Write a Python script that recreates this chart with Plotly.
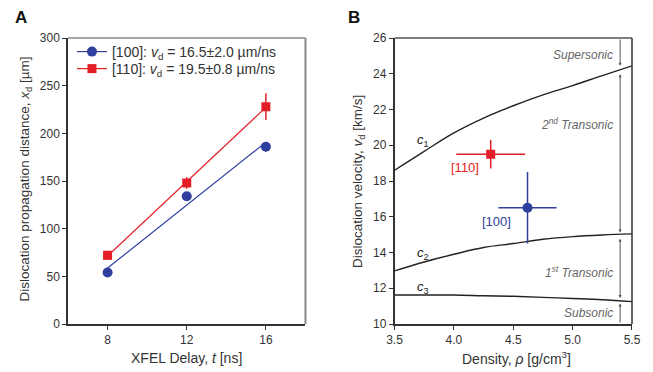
import numpy as np
import plotly.graph_objects as go

# ---------------- data ----------------
delay = [8, 12, 16]
dist_100 = [54, 134, 186]
err_100 = [3, 3, 5]
dist_110 = [72, 148, 228]
err_110 = [4, 6, 14]
legend_100 = "[100]: <i>v</i><sub>d</sub> = 16.5±2.0 µm/ns"
legend_110 = "[110]: <i>v</i><sub>d</sub> = 19.5±0.8 µm/ns"

density = [3.5, 3.75, 4.0, 4.25, 4.5, 4.75, 5.0, 5.25, 5.5]
c1 = [18.6, 19.66, 20.69, 21.52, 22.21, 22.82, 23.34, 23.9, 24.44]
c2 = [12.97, 13.47, 13.9, 14.28, 14.5, 14.74, 14.89, 14.98, 15.04]
c3 = [11.62, 11.62, 11.62, 11.58, 11.55, 11.49, 11.43, 11.36, 11.25]

rho_110 = [4.31]; rho_err_110 = [0.29]; v_110 = [19.5]; v_err_110 = [0.8]
rho_100 = [4.62]; rho_err_100 = [0.245]; v_100 = [16.5]; v_err_100 = [2.0]

region_x = 5.4
region_bounds = [(26, 24.45), (24.05, 15.12), (14.85, 11.45), (10, 11.15)]
region_labels = ["Supersonic", "2<sup>nd</sup> Transonic", "1<sup>st</sup> Transonic", "Subsonic"]
region_label_y = [25.05, 21.19, 12.92, 10.6]

BLUE = "#2f3f9d"
RED = "#e31e27"
FONT = "Liberation Sans, Arial, sans-serif"
AX = "#333333"

fig = go.Figure()

# ---- Panel A ----
xfit = np.array([min(delay), max(delay)], dtype=float)
for d, e, col, sym, name, lg in [(dist_100, err_100, BLUE, "circle", legend_100, "legend"),
                                 (dist_110, err_110, RED, "square", legend_110, "legend2")]:
    k, b = np.polyfit(delay, d, 1)
    msize = 10 if sym == "circle" else 9
    fig.add_trace(go.Scatter(x=xfit, y=k * xfit + b, mode="lines",
                             line=dict(color=col, width=1.2), showlegend=False,
                             xaxis="x", yaxis="y"))
    fig.add_trace(go.Scatter(x=delay, y=d, mode="markers",
                             marker=dict(color=col, symbol=sym, size=msize),
                             error_y=dict(type="data", array=e, color=col, thickness=1.5, width=0),
                             showlegend=False, xaxis="x", yaxis="y"))
    fig.add_trace(go.Scatter(x=[None], y=[None], mode="lines+markers", name=name, legend=lg,
                             line=dict(color=col, width=1.2),
                             marker=dict(color=col, symbol=sym, size=msize),
                             xaxis="x", yaxis="y"))

# ---- Panel B ----
for c in [c1, c2, c3]:
    fig.add_trace(go.Scatter(x=density, y=c, mode="lines", line=dict(color="#222", width=1.4, shape="spline"),
                             showlegend=False, xaxis="x2", yaxis="y2"))

fig.add_trace(go.Scatter(x=rho_110, y=v_110, mode="markers",
                         marker=dict(color=RED, symbol="square", size=9),
                         error_x=dict(type="data", array=rho_err_110, color=RED, thickness=1.5, width=0),
                         error_y=dict(type="data", array=v_err_110, color=RED, thickness=1.5, width=0),
                         showlegend=False, xaxis="x2", yaxis="y2"))
fig.add_trace(go.Scatter(x=rho_100, y=v_100, mode="markers",
                         marker=dict(color=BLUE, symbol="circle", size=10),
                         error_x=dict(type="data", array=rho_err_100, color=BLUE, thickness=1.5, width=0),
                         error_y=dict(type="data", array=v_err_100, color=BLUE, thickness=1.5, width=0),
                         showlegend=False, xaxis="x2", yaxis="y2"))

ann = []
# region arrows
for i, (y0, y1) in enumerate(region_bounds):
    side = "end+start" if i in (1, 2) else "end"
    ann.append(dict(x=region_x, y=y1, ax=region_x, ay=y0, xref="x2", yref="y2", axref="x2", ayref="y2",
                    showarrow=True, arrowhead=2, arrowsize=0.6, arrowwidth=1, arrowcolor="#555",
                    arrowside=side, standoff=0, startstandoff=0, text=""))
for t, yy in zip(region_labels, region_label_y):
    ann.append(dict(x=5.36, y=yy, xref="x2", yref="y2", text="<i>" + t + "</i>", showarrow=False,
                    xanchor="right", yanchor="middle", font=dict(size=12, color="#666", family=FONT)))
for t, xx, yy in [("<i>c</i><sub>1</sub>", 3.74, 20.25), ("<i>c</i><sub>2</sub>", 3.74, 13.96),
                  ("<i>c</i><sub>3</sub>", 3.74, 12.02)]:
    ann.append(dict(x=xx, y=yy, xref="x2", yref="y2", text=t, showarrow=False,
                    xanchor="center", yanchor="middle", font=dict(size=13, color="#222", family=FONT)))
ann.append(dict(x=4.09, y=18.74, xref="x2", yref="y2", text="[110]", showarrow=False,
                xanchor="center", yanchor="middle", font=dict(size=13, color=RED, family=FONT)))
ann.append(dict(x=4.36, y=15.76, xref="x2", yref="y2", text="[100]", showarrow=False,
                xanchor="center", yanchor="middle", font=dict(size=13, color=BLUE, family=FONT)))

# axis titles & panel letters (paper coords; plot area px 68..638 x 38..324)
W0, W = 68, 570
H0, H = 38, 286
px = lambda p: (p - W0) / W
py = lambda p: 1 - (p - H0) / H
for t, x, y, ang, size in [
    ("Dislocation propagation distance, <i>x</i><sub>d</sub> [µm]", 25, 179, -90, 13.5),
    ("Dislocation velocity, <i>v</i><sub>d</sub> [km/s]", 361, 181, -90, 13.5),
    ("XFEL Delay, <i>t</i> [ns]", 188, 358, 0, 14),
    ("Density, <i>ρ</i> [g/cm<sup>3</sup>]", 521, 358, 0, 14),
]:
    ann.append(dict(x=px(x), y=py(y), xref="paper", yref="paper", textangle=ang, showarrow=False,
                    xanchor="center", yanchor="middle", text=t, font=dict(size=size, color=AX, family=FONT)))
for t, x, y in [("<b>A</b>", 20, 17), ("<b>B</b>", 357, 17)]:
    ann.append(dict(x=px(x), y=py(y), xref="paper", yref="paper", showarrow=False,
                    xanchor="center", yanchor="middle", text=t, font=dict(size=17, color="#111", family=FONT)))

shapes = [
    dict(type="line", xref="x domain", yref="y domain", x0=0, x1=1, y0=1, y1=1, line=dict(color="#888", width=1.5)),
    dict(type="line", xref="x domain", yref="y domain", x0=1, x1=1, y0=0, y1=1, line=dict(color="#888", width=2)),
    dict(type="line", xref="x2 domain", yref="y2 domain", x0=0, x1=1, y0=1, y1=1, line=dict(color="#555", width=1.5)),
    dict(type="line", xref="x2 domain", yref="y2 domain", x0=1, x1=1, y0=0, y1=1, line=dict(color="#333", width=1.5)),
]

axis_common = dict(showgrid=False, zeroline=False, showline=True, linecolor=AX, linewidth=1.5,
                   ticks="outside", ticklen=4, tickwidth=1, tickcolor=AX,
                   tickfont=dict(size=12, color=AX, family=FONT))

legend_common = dict(xanchor="left", yanchor="middle", bgcolor="rgba(0,0,0,0)",
                     font=dict(size=14, color=AX, family=FONT), itemwidth=30)

fig.update_layout(
    width=653, height=372,
    margin=dict(l=W0, r=653 - W0 - W, t=H0, b=372 - H0 - H),
    paper_bgcolor="white", plot_bgcolor="white",
    font=dict(family=FONT, color=AX),
    xaxis=dict(domain=[0, (308 - W0) / W], range=[6, 18], tickvals=delay, anchor="y", **axis_common),
    yaxis=dict(domain=[0, 1], range=[0, 300], dtick=50, anchor="x", **axis_common),
    xaxis2=dict(domain=[(398 - W0) / W, 1], range=[3.5, 5.5], dtick=0.5, tickformat=".1f", anchor="y2", **axis_common),
    yaxis2=dict(domain=[0, 1], range=[10, 26], dtick=2, anchor="x2", **axis_common),
    legend=dict(x=px(72), y=py(52), **legend_common),
    legend2=dict(x=px(72), y=py(69), **legend_common),
    annotations=ann, shapes=shapes,
    showlegend=True,
)

fig.write_html("out.html", config={"displayModeBar": False},
               post_script="document.body.style.margin='0';document.body.style.padding='0';")
